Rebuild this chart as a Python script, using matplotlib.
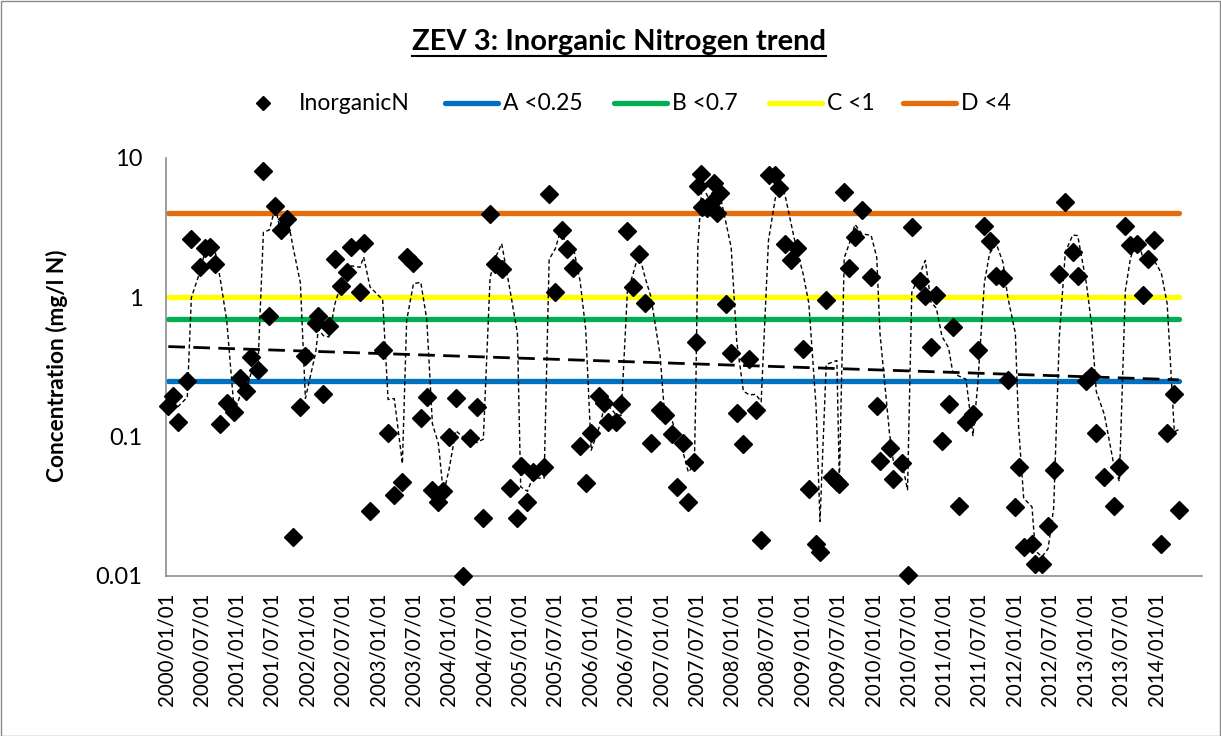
import numpy as np
import pandas as pd
import matplotlib
matplotlib.use("Agg")
import matplotlib.pyplot as plt
import matplotlib.dates as mdates
from matplotlib.lines import Line2D
from matplotlib.patches import Rectangle

# ---------------- data ----------------
sample_dates = [
    "2000-01-13", "2000-02-08", "2000-03-01", "2000-04-20", "2000-05-11", "2000-06-23",
    "2000-07-22", "2000-08-15", "2000-09-12", "2000-10-06", "2000-11-10", "2000-12-19",
    "2001-01-17", "2001-02-16", "2001-03-15", "2001-04-19", "2001-05-18", "2001-06-18",
    "2001-07-19", "2001-08-19", "2001-09-19", "2001-10-20", "2001-11-25", "2001-12-21",
    "2002-02-12", "2002-02-26", "2002-03-24", "2002-04-22", "2002-05-23", "2002-06-23",
    "2002-07-26", "2002-08-15", "2002-09-29", "2002-10-18", "2002-11-20", "2003-01-24",
    "2003-02-21", "2003-03-25", "2003-05-06", "2003-05-28", "2003-07-02", "2003-08-09",
    "2003-09-09", "2003-10-08", "2003-11-08", "2003-12-04", "2004-01-02", "2004-02-06",
    "2004-03-13", "2004-04-19", "2004-05-24", "2004-06-27", "2004-08-01", "2004-08-27",
    "2004-09-30", "2004-11-12", "2004-12-20", "2005-01-06", "2005-02-10", "2005-03-09",
    "2005-05-07", "2005-06-02", "2005-07-03", "2005-08-06", "2005-09-01", "2005-10-05",
    "2005-11-09", "2005-12-08", "2006-01-05", "2006-02-15", "2006-03-13", "2006-04-04",
    "2006-05-14", "2006-06-09", "2006-07-11", "2006-08-08", "2006-09-08", "2006-10-11",
    "2006-11-09", "2006-12-27", "2007-01-22", "2007-02-25", "2007-03-26", "2007-04-23",
    "2007-05-22", "2007-06-22", "2007-06-29", "2007-07-10", "2007-07-25", "2007-07-31",
    "2007-08-25", "2007-09-20", "2007-10-04", "2007-10-16", "2007-11-02", "2007-12-01",
    "2007-12-29", "2008-01-27", "2008-03-01", "2008-04-01", "2008-05-04", "2008-06-01",
    "2008-07-09", "2008-08-12", "2008-09-03", "2008-10-03", "2008-11-01", "2008-12-02",
    "2009-01-02", "2009-02-02", "2009-03-12", "2009-04-01", "2009-05-03", "2009-06-01",
    "2009-06-27", "2009-07-10", "2009-08-04", "2009-08-31", "2009-09-29", "2009-11-03",
    "2009-12-21", "2010-01-19", "2010-02-05", "2010-03-26", "2010-04-15", "2010-05-29",
    "2010-06-27", "2010-07-19", "2010-09-01", "2010-09-27", "2010-10-26", "2010-11-23",
    "2010-12-22", "2011-01-25", "2011-02-15", "2011-03-18", "2011-04-25", "2011-05-31",
    "2011-06-24", "2011-07-29", "2011-08-25", "2011-09-29", "2011-11-02", "2011-11-26",
    "2012-01-05", "2012-01-22", "2012-02-17", "2012-03-31", "2012-04-17", "2012-05-22",
    "2012-06-22", "2012-07-21", "2012-08-19", "2012-09-19", "2012-10-27", "2012-11-22",
    "2013-01-06", "2013-02-01", "2013-02-26", "2013-04-09", "2013-05-27", "2013-06-25",
    "2013-07-26", "2013-08-21", "2013-09-25", "2013-10-24", "2013-11-20", "2013-12-23",
    "2014-01-28", "2014-02-27", "2014-04-05", "2014-04-28",
]

inorganic_n = [
    0.167, 0.196, 0.127, 0.252, 2.61, 1.65,
    2.25, 2.31, 1.73, 0.123, 0.173, 0.151,
    0.264, 0.214, 0.375, 0.30, 8.11, 0.734,
    4.55, 3.04, 3.63, 0.0191, 0.164, 0.381,
    0.657, 0.734, 0.201, 0.625, 1.89, 1.21,
    1.53, 2.31, 1.087, 2.44, 0.0292, 0.418,
    0.107, 0.0381, 0.047, 1.96, 1.75, 0.137,
    0.192, 0.0414, 0.0341, 0.0407, 0.0998, 0.19,
    0.0100, 0.098, 0.164, 0.0259, 3.96, 1.73,
    1.59, 0.043, 0.0259, 0.0618, 0.0341, 0.056,
    0.0608, 5.51, 1.087, 3.04, 2.21, 1.62,
    0.086, 0.0462, 0.107, 0.197, 0.175, 0.128,
    0.128, 0.171, 2.99, 1.19, 2.05, 0.906,
    0.0904, 0.155, 0.143, 0.104, 0.0433, 0.0895,
    0.0341, 0.066, 0.48, 6.33, 7.63, 4.47,
    4.35, 4.86, 6.58, 4.05, 5.58, 0.891,
    0.40, 0.149, 0.088, 0.361, 0.155, 0.0181,
    7.55, 7.55, 6.12, 2.41, 1.85, 2.27,
    0.426, 0.0421, 0.0171, 0.0148, 0.957, 0.0516,
    0.0475, 0.0455, 5.67, 1.62, 2.72, 4.23,
    1.406, 0.167, 0.0668, 0.0824, 0.0496, 0.065,
    0.0101, 3.18, 1.316, 1.027, 0.4375, 1.04,
    0.0935, 0.171, 0.615, 0.0319, 0.128, 0.145,
    0.418, 3.25, 2.55, 1.43, 1.369, 0.255,
    0.0314, 0.0608, 0.0162, 0.0171, 0.0121, 0.0121,
    0.0229, 0.0575, 1.47, 4.81, 2.10, 1.42,
    0.251, 0.274, 0.107, 0.051, 0.0319, 0.0602,
    3.25, 2.37, 2.41, 1.04, 1.88, 2.58,
    0.0169, 0.106, 0.202, 0.0297,
]

class_labels = ["A <0.25", "B <0.7", "C <1", "D <4"]
class_limits = [0.25, 0.7, 1.0, 4.0]
class_colors = ["#0070C0", "#00B050", "#FFFF00", "#E46C0A"]

y_ticks = [0.01, 0.1, 1, 10]
y_tick_labels = ["0.01", "0.1", "1", "10"]
x_tick_dates = pd.date_range("2000-01-01", "2014-01-01", freq="6MS")
x_limits = ("2000-01-01", "2014-08-26")

title_text = "ZEV 3: Inorganic Nitrogen trend"
y_label_text = "Concentration (mg/l N)"
series_label = "InorganicN"

# ---------------- figure ----------------
FONT = "Lato"
plt.rcParams["font.family"] = [FONT, "DejaVu Sans"]

W, H = 1221, 736
fig = plt.figure(figsize=(W / 100, H / 100), dpi=100)
fig.patch.set_facecolor("white")
fig.patches.append(Rectangle((0.5 / W, 0.5 / H), 1 - 1.5 / W, 1 - 1.5 / H,
                             transform=fig.transFigure, fill=False,
                             edgecolor="#8C8C8C", linewidth=1.0, zorder=0))

left, right, top, bottom = 166, 1202, 158, 576
ax = fig.add_axes([left / W, 1 - bottom / H, (right - left) / W, (bottom - top) / H])

dates = pd.to_datetime(sample_dates)
vals = np.array(inorganic_n)

# class limit lines over the data period
for lab, lim, col in zip(class_labels, class_limits, class_colors):
    ax.plot([dates[0], dates[-1]], [lim, lim], color=col, linewidth=3.8,
            solid_capstyle="round", zorder=2, label=lab)

# 3-period moving average
ma = pd.Series(vals).rolling(3).mean()
ax.plot(dates, ma, color="black", linestyle=(0, (3, 2)), linewidth=1.0, zorder=3)

# exponential trend line
xnum = mdates.date2num(dates)
slope, icpt = np.polyfit(xnum, np.log10(vals), 1)
xt = np.array([xnum[0], xnum[-1]])
ax.plot(mdates.num2date(xt), 10 ** (icpt + slope * xt), color="black",
        linestyle=(0, (6, 3)), linewidth=2.0, zorder=3)

# data points
ax.plot(dates, vals, linestyle="none", marker="D", markersize=9.5,
        color="black", zorder=4, label=series_label, clip_on=False)

ax.set_yscale("log")
ax.set_ylim(0.01, 10)
ax.set_xlim(pd.Timestamp(x_limits[0]), pd.Timestamp(x_limits[1]))
ax.set_yticks(y_ticks)
ax.set_yticklabels(y_tick_labels)
ax.yaxis.set_minor_locator(matplotlib.ticker.NullLocator())
ax.set_xticks(x_tick_dates)
ax.set_xticklabels([d.strftime("%Y/%m/%d") for d in x_tick_dates], rotation=90)
ax.tick_params(axis="both", length=0, colors="black")
ax.tick_params(axis="y", pad=17, labelsize=17)
ax.tick_params(axis="x", pad=12, labelsize=14.8)

for s in ("top", "right"):
    ax.spines[s].set_visible(False)
for s in ("left", "bottom"):
    ax.spines[s].set_color("#8C8C8C")
    ax.spines[s].set_linewidth(1.2)
ax.set_facecolor("white")

fig.text(57 / W, 1 - 366 / H, y_label_text, rotation=90, ha="center", va="center",
         fontsize=16.3, fontweight="bold")

t = fig.text(619 / W, 1 - 42 / H, title_text, ha="center", va="center",
             fontsize=21, fontweight="bold")

# legend, drawn item by item at the reference positions (pixels)
leg_y = 1 - 103 / H
fig.add_artist(Line2D([263 / W], [leg_y], transform=fig.transFigure, linestyle="none",
                      marker="D", markersize=7.5, color="black"))
fig.text(299 / W, leg_y, series_label, ha="left", va="center", fontsize=16.5)
leg_line_x = [445, 614, 769, 903]
for lab, col, x0 in zip(class_labels, class_colors, leg_line_x):
    fig.add_artist(Line2D([x0 / W, (x0 + 53) / W], [leg_y, leg_y],
                          transform=fig.transFigure, color=col, linewidth=3.8,
                          solid_capstyle="round"))
    fig.text((x0 + 58) / W, leg_y, lab, ha="left", va="center", fontsize=16.5)

# underline the title
fig.canvas.draw()
bb = t.get_window_extent(fig.canvas.get_renderer())
yline = bb.y0 - 1
fig.add_artist(Line2D([bb.x0 / W, bb.x1 / W], [yline / H, yline / H],
                      transform=fig.transFigure, color="black", linewidth=1.5))

fig.savefig("out.png", dpi=100)
